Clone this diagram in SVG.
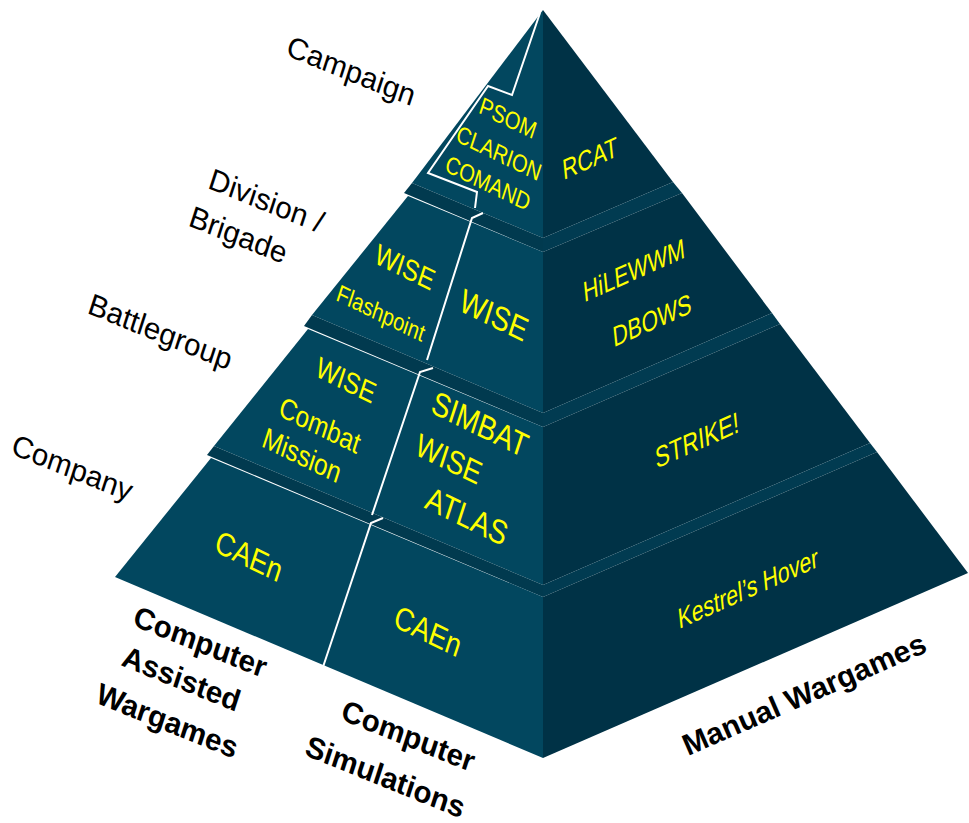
<svg xmlns="http://www.w3.org/2000/svg" width="969" height="823" viewBox="0 0 969 823">
<style>
text{font-family:"Liberation Sans",Arial,sans-serif;text-anchor:middle}
.lbl{fill:#000;font-size:30px}
.b{font-weight:bold;font-size:30px}
.y{fill:#ffff00}
.lf{fill:#02475f}
.ls{fill:#013a4f}
.rf{fill:#003246}
.rs{fill:#013b51}
.div{fill:none;stroke:#fff;stroke-width:2;stroke-linejoin:miter}
</style>
<rect width="969" height="823" fill="#fff"/>
<g id="right-face">
<g id="manual-campaign"><polygon class="rf" points="543,10 673,182 543,238"/>
<text class="y" font-size="28" dy="0.35em" transform="matrix(0.74,-0.33,0.1,0.995,590,158)">RCAT</text></g>
<polygon class="rs" points="543,238 673,182 682,193 543,252"/>
<g id="manual-division"><polygon class="rf" points="543,252 682,193 772,313 543,413"/>
<text class="y" font-size="28" dy="0.35em" transform="matrix(0.74,-0.33,0.1,0.995,634,270)">HiLEWWM</text>
<text class="y" font-size="28" dy="0.35em" transform="matrix(0.74,-0.33,0.1,0.995,652,320)">DBOWS</text></g>
<polygon class="rs" points="543,413 772,313 780,324 543,427"/>
<g id="manual-battlegroup"><polygon class="rf" points="543,427 780,324 870,443 543,585"/>
<text class="y" font-size="29" dy="0.35em" transform="matrix(0.74,-0.33,0.1,0.995,697,440)">STRIKE!</text></g>
<polygon class="rs" points="543,585 870,443 877,452 543,597"/>
<g id="manual-company"><polygon class="rf" points="543,597 877,452 968,573 543,758"/>
<text class="y" font-size="28" dy="0.35em" transform="matrix(0.74,-0.33,0.1,0.995,748,588)">Kestrel’s Hover</text></g>
</g>
<g id="left-face">
<polygon class="lf" points="543,10 412,183 543,238"/>
<polygon class="ls" points="543,238 412,183 404,193 543,252"/>
<polygon class="lf" points="543,252 408,196 312,315 543,413"/>
<polygon class="ls" points="543,413 312,315 304,326 543,427"/>
<polygon class="lf" points="543,427 308,329 214,446 543,585"/>
<polygon class="ls" points="543,585 214,446 207,455 543,597"/>
<polygon class="lf" points="543,597 211,458 115,577 543,758"/>
</g>
<g id="sim-campaign">
<text class="y" font-size="24" dy="0.35em" transform="matrix(0.782,0.381,-0.309,0.951,508,118)">PSOM</text>
<text class="y" font-size="24" dy="0.35em" transform="matrix(0.782,0.381,-0.309,0.951,499,153)">CLARION</text>
<text class="y" font-size="24" dy="0.35em" transform="matrix(0.782,0.381,-0.309,0.951,488,183)">COMAND</text>
</g>
<g id="caw-division">
<text class="y" font-size="29" dy="0.35em" transform="matrix(0.782,0.381,-0.309,0.951,405,267)">WISE</text>
<text class="y" font-size="24" dy="0.35em" transform="matrix(0.782,0.381,-0.309,0.951,381,313)">Flashpoint</text>
</g>
<g id="sim-division">
<text class="y" font-size="33" dy="0.35em" transform="matrix(0.782,0.381,-0.309,0.951,494,315)">WISE</text>
</g>
<g id="caw-battlegroup">
<text class="y" font-size="29" dy="0.35em" transform="matrix(0.782,0.381,-0.309,0.951,346,380)">WISE</text>
<text class="y" font-size="29" dy="0.35em" transform="matrix(0.782,0.381,-0.309,0.951,320,425)">Combat</text>
<text class="y" font-size="29" dy="0.35em" transform="matrix(0.782,0.381,-0.309,0.951,302,455)">Mission</text>
</g>
<g id="sim-battlegroup">
<text class="y" font-size="33" dy="0.35em" transform="matrix(0.782,0.381,-0.309,0.951,480,424)">SIMBAT</text>
<text class="y" font-size="32" dy="0.35em" transform="matrix(0.782,0.381,-0.309,0.951,449,459)">WISE</text>
<text class="y" font-size="33" dy="0.35em" transform="matrix(0.782,0.381,-0.309,0.951,467,516)">ATLAS</text>
</g>
<g id="caw-company">
<text class="y" font-size="32" dy="0.35em" transform="matrix(0.782,0.381,-0.309,0.951,249,556)">CAEn</text>
</g>
<g id="sim-company">
<text class="y" font-size="32" dy="0.35em" transform="matrix(0.782,0.381,-0.309,0.951,428,631)">CAEn</text>
</g>
<g id="connectors">
<polyline class="div" points="540,13 512,95 488,86 428,173 477,192 475,208"/>
<polyline class="div" points="483,213 472,218 427,360"/>
<polyline class="div" points="433,368 420,372 372,515"/>
<polyline class="div" points="383,518 371,523 323,667"/>
</g>
<g id="level-labels">
<text class="lbl" dy="0.3em" transform="matrix(0.927,0.375,-0.309,0.951,351,72)">Campaign</text>
<text class="lbl" dy="0.3em" transform="matrix(0.927,0.375,-0.309,0.951,266,202)">Division /</text>
<text class="lbl" dy="0.3em" transform="matrix(0.927,0.375,-0.309,0.951,238,236)">Brigade</text>
<text class="lbl" dy="0.3em" transform="matrix(0.927,0.375,-0.309,0.951,160,333)">Battlegroup</text>
<text class="lbl" dy="0.3em" transform="matrix(0.927,0.375,-0.309,0.951,72,469)">Company</text>
</g>
<g id="column-labels">
<text class="lbl b" dy="0.3em" transform="matrix(0.927,0.375,-0.309,0.951,200,643)">Computer</text>
<text class="lbl b" dy="0.3em" transform="matrix(0.927,0.375,-0.309,0.951,181,680)">Assisted</text>
<text class="lbl b" dy="0.3em" transform="matrix(0.927,0.375,-0.309,0.951,167,722)">Wargames</text>
<text class="lbl b" dy="0.3em" transform="matrix(0.927,0.375,-0.309,0.951,408,737)">Computer</text>
<text class="lbl b" dy="0.3em" transform="matrix(0.927,0.375,-0.309,0.951,385,778)">Simulations</text>
<text class="lbl b" font-size="33" dy="0.35em" transform="matrix(0.917,-0.399,0.399,0.917,804,694)">Manual Wargames</text>
</g>
</svg>
